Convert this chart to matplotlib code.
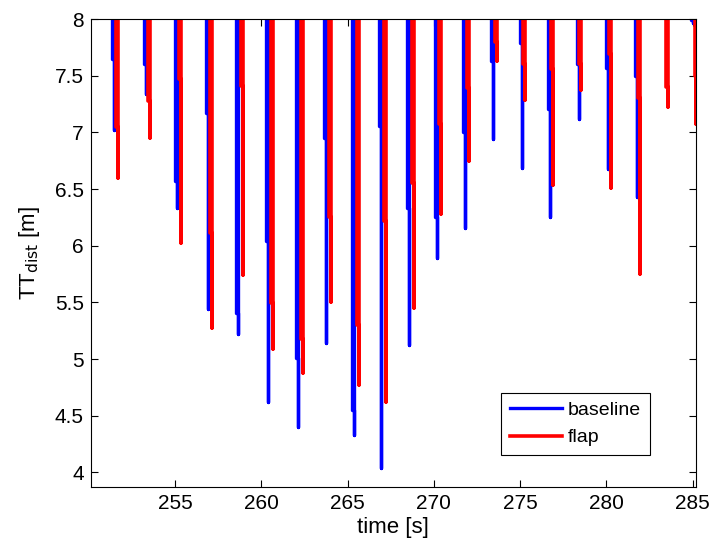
import numpy as np
import matplotlib.pyplot as plt

# dip centre times [s], shoulder level and minimum [m]
t_base = [251.44, 253.30, 255.09, 256.89, 258.63, 260.37, 262.11, 263.73, 265.35,
          266.91, 268.54, 270.16, 271.78, 273.40, 275.08, 276.71, 278.39, 280.07,
          281.75, 284.99]
s_base = [7.65, 7.60, 6.57, 7.17, 5.41, 6.04, 5.01, 6.95, 4.55, 7.06, 6.33, 6.25,
          7.00, 7.63, 7.79, 7.21, 7.60, 7.57, 7.50, 7.99]
m_base = [7.02, 7.34, 6.33, 5.44, 5.22, 4.62, 4.40, 5.14, 4.33, 4.04, 5.12, 5.89,
          6.16, 6.94, 6.69, 6.25, 7.12, 6.68, 6.43, 7.97]

t_flap = [251.68, 253.53, 255.33, 257.12, 258.92, 260.66, 262.40, 264.02, 265.64,
          267.20, 268.83, 270.39, 272.01, 273.63, 275.26, 276.89, 278.50, 280.24,
          281.92, 283.54, 285.21]
s_flap = [7.05, 7.28, 7.47, 6.11, 7.41, 5.49, 5.18, 6.25, 5.30, 6.22, 6.55, 7.07,
          7.39, 7.80, 7.60, 7.56, 7.60, 7.69, 7.30, 7.40, 7.50]
m_flap = [6.60, 6.95, 6.02, 5.27, 5.74, 5.09, 4.88, 5.50, 4.77, 4.62, 5.45, 6.28,
          6.75, 7.63, 7.29, 6.54, 7.37, 6.51, 5.75, 7.22, 7.07]

HIGH = 9.0   # signal is off scale between tower passages
dt = 0.1


def trace(tc, s, m):
    # down to the shoulder, a short step, down to the minimum, back up
    t, y = [], []
    for c, a, b in zip(tc, s, m):
        t += [c - dt, c - dt, c, c, c]
        y += [HIGH, a, a, b, HIGH]
    return np.array(t), np.array(y)


plt.rcParams['font.family'] = ['Liberation Sans', 'DejaVu Sans']

fig = plt.figure(figsize=(7.15, 5.46), dpi=100)
ax = fig.add_axes([0.127, 0.108, 0.846, 0.857])

tb, yb = trace(t_base, s_base, m_base)
tf, yf = trace(t_flap, s_flap, m_flap)
ax.plot(tb, yb, color='#0000ff', lw=2.4, label='baseline')
ax.plot(tf, yf, color='#ff0000', lw=2.6, label='flap')

ax.set_xlim(250.12, 285.17)
ax.set_ylim(3.87, 8)
ax.set_xticks(np.arange(255, 286, 5))
ax.set_yticks(np.arange(4, 8.01, 0.5))
ax.set_yticklabels(['4', '4.5', '5', '5.5', '6', '6.5', '7', '7.5', '8'])
ax.tick_params(direction='in', top=True, right=True, length=5, labelsize=15,
               width=0.8, pad=5)
for sp in ax.spines.values():
    sp.set_linewidth(0.8)

ax.set_xlabel('time [s]', fontsize=16, labelpad=3)
ax.set_ylabel(r'TT$_{\rm dist}$ [m]', fontsize=16, labelpad=9)

leg = ax.legend(loc='lower right', bbox_to_anchor=(0.924, 0.068), borderaxespad=0,
                fontsize=14, fancybox=False, edgecolor='black', framealpha=1,
                handlelength=2.7, handletextpad=0.3, borderpad=0.45,
                labelspacing=0.5)
leg.get_frame().set_linewidth(0.8)

fig.savefig('out.png', dpi=100)
